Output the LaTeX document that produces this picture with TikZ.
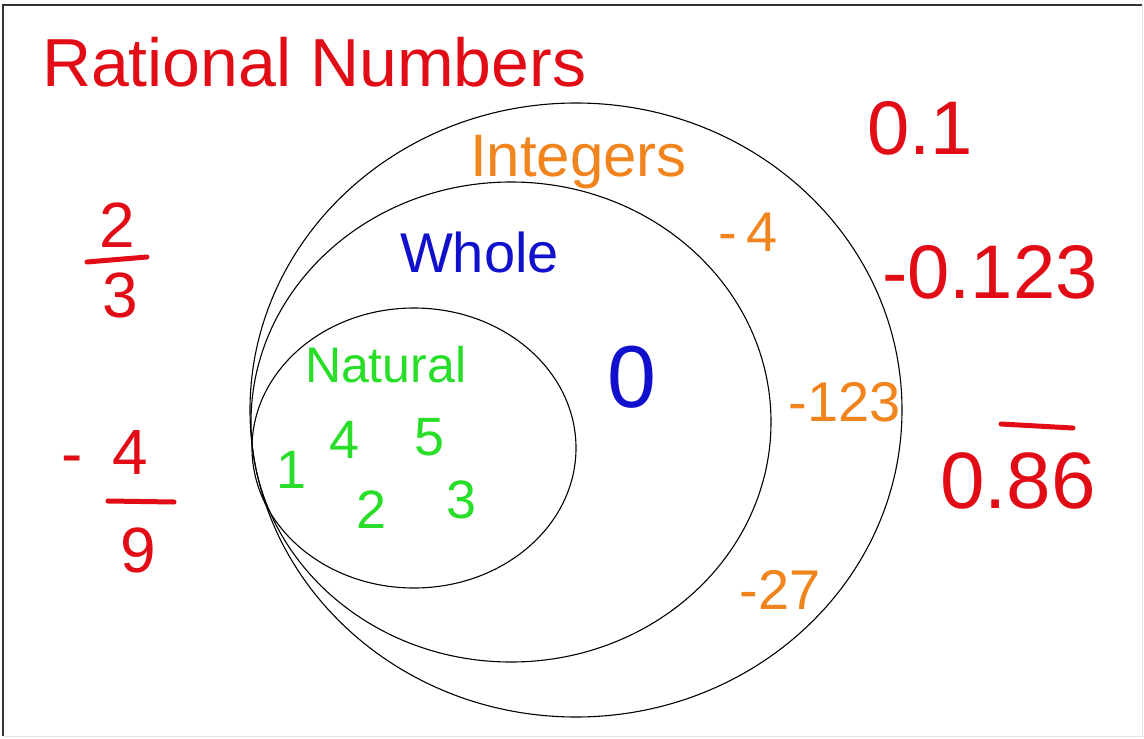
\documentclass[tikz,border=0pt]{standalone}
\usepackage{fontspec}
\setmainfont{Liberation Sans}
\usetikzlibrary{shapes.geometric}
\definecolor{hred}{RGB}{226,12,22}
\definecolor{horange}{RGB}{242,132,30}
\definecolor{hblue}{RGB}{16,16,205}
\definecolor{hgreen}{RGB}{40,222,40}
\tikzset{
  lbl/.style={inner sep=0pt, outer sep=0pt},
  setring/.style={draw=black, line width=1.1pt, ellipse, inner sep=0pt},
  bar/.style={line width=5pt, line cap=round},
}
\begin{document}
\begin{tikzpicture}[x=1pt,y=-1pt]
\useasboundingbox (0,0) rectangle (1144,739);
\fill[white] (0,0) rectangle (1144,739);
% frame
\coordinate (tl) at (3,5);
\coordinate (tr) at (1142,5);
\coordinate (bl) at (3,736);
\coordinate (br) at (1142,736);
\draw[line width=1.5pt, black!80] (bl) -- (tl) -- (tr);
\draw[line width=1pt, black!10] (tr) -- (br) -- (bl);

% rings
\node[setring, minimum width=652pt, minimum height=614pt] (integers) at (576,410) {};
\node[setring, minimum width=520pt, minimum height=480pt] (whole) at (511,422) {};
\node[setring, minimum width=324pt, minimum height=280pt] (natural) at (414,448) {};

% title
\node[lbl, anchor=base west, text=hred, font=\fontsize{68}{68}\selectfont] (title) at (42,86) {Rational Numbers};

% set labels
\node[lbl, anchor=base west, text=horange, font=\fontsize{60}{60}\selectfont] (intlbl) at (470,176) {Integers};
\node[lbl, anchor=base west, text=hblue, font=\fontsize{56}{56}\selectfont] (wholelbl) at (400,272) {Whole};
\node[lbl, anchor=base west, text=hgreen, font=\fontsize{50}{50}\selectfont] (natlbl) at (305,382) {Natural};

% natural numbers
\begin{scope}[every node/.style={lbl, text=hgreen, font=\fontsize{54}{54}\selectfont}]
\node (n1) at (292,470) {1};
\node (n4) at (345,440) {4};
\node (n5) at (430,437) {5};
\node (n2) at (372,510) {2};
\node (n3) at (462,500) {3};
\end{scope}

% whole
\node[lbl, text=hblue, font=\fontsize{88}{88}\selectfont] (zero) at (632,377) {0};

% integers
\begin{scope}[every node/.style={lbl, text=horange, font=\fontsize{56}{56}\selectfont}]
\node (m4) at (748,232) {-\,4};
\node (m123) at (845,402) {-123};
\node (m27) at (780,590) {-27};
\end{scope}

% rationals
\begin{scope}[every node/.style={lbl, text=hred}]
\node[font=\fontsize{76}{76}\selectfont] (r01) at (920,128) {0.1};
\node[font=\fontsize{76}{76}\selectfont] (r0123) at (990,272) {-0.123};
\node[font=\fontsize{80}{80}\selectfont, anchor=base west] (r086) at (940,508) {0.86};
\node[font=\fontsize{64}{64}\selectfont] (f2) at (117,225) {2};
\node[font=\fontsize{64}{64}\selectfont] (f3) at (120,295) {3};
\node[font=\fontsize{64}{64}\selectfont] (fm) at (72,466) {-};
\node[font=\fontsize{64}{64}\selectfont] (f4) at (130,452) {4};
\node[font=\fontsize{64}{64}\selectfont] (f9) at (138,550) {9};
\end{scope}
\coordinate (b23a) at (87,262);
\coordinate (b23b) at (147,257);
\coordinate (b49a) at (108,501);
\coordinate (b49b) at (174,502);
\coordinate (ova) at (1001,424);
\coordinate (ovb) at (1073,428);
\draw[bar, hred] (b23a) -- (b23b);
\draw[bar, hred] (b49a) -- (b49b);
\draw[bar, hred] (ova) -- (ovb);
\end{tikzpicture}
\end{document}
